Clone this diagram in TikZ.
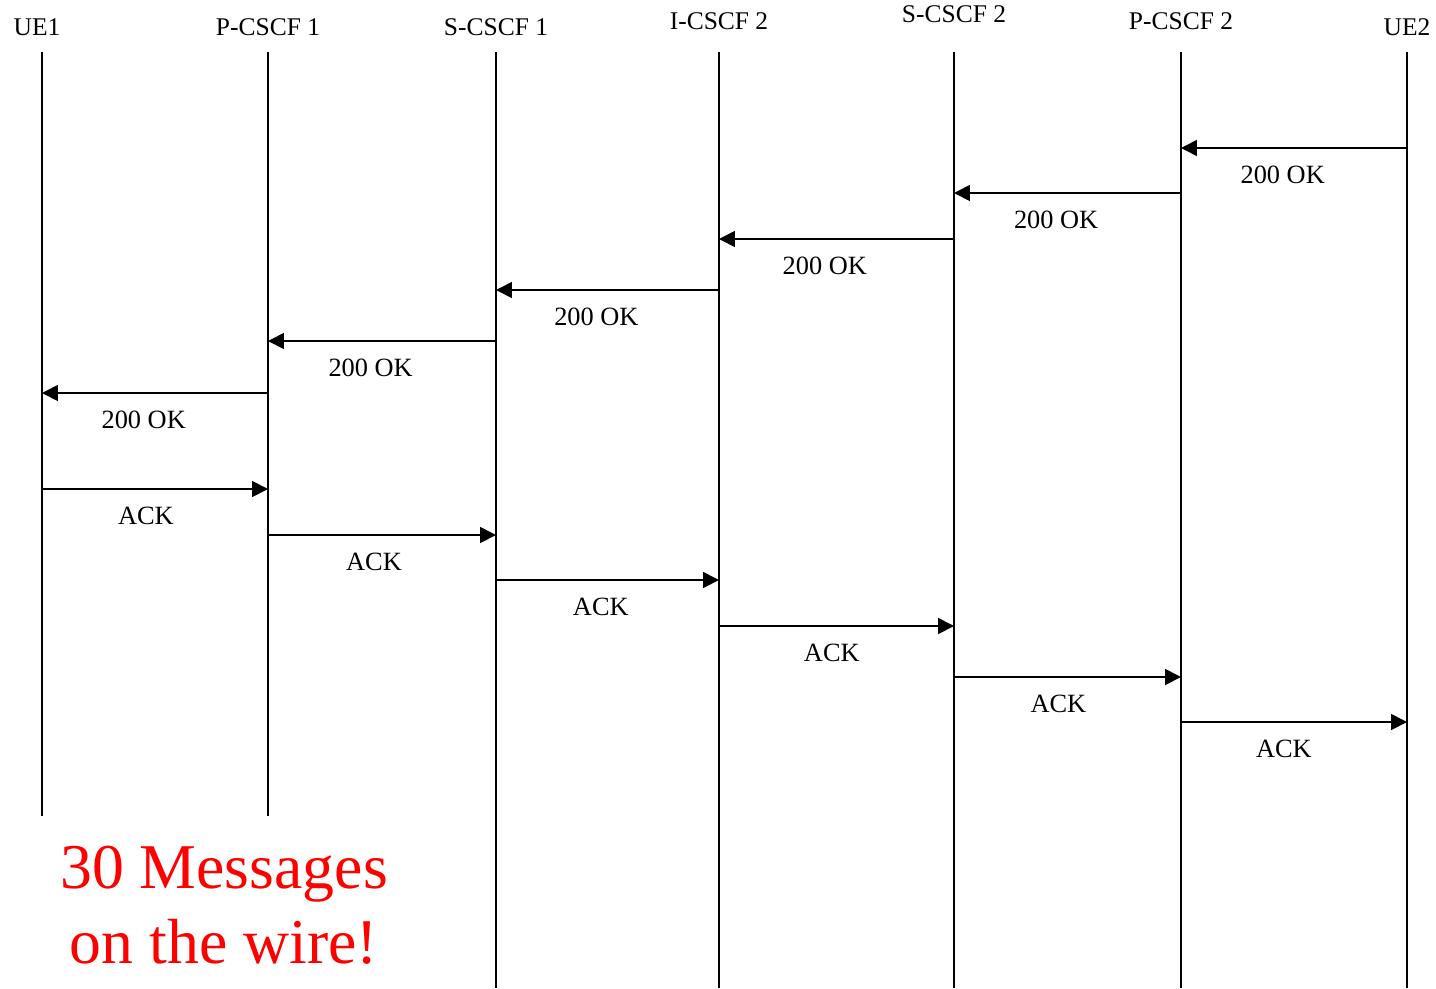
\documentclass[tikz,border=0pt]{standalone}
\usepackage{fontspec}
\setmainfont{Liberation Serif}
\usetikzlibrary{arrows.meta,positioning}

\begin{document}
\begin{tikzpicture}[
    x=0.02cm, y=-0.02cm,
    entity/.style={font=\fontsize{14.5}{16}\selectfont, inner sep=0pt},
    lifeline/.style={draw, line width=1pt},
    msg/.style={draw, line width=1pt, -{Triangle[length=9pt,width=9pt]}},
    msglabel/.style={font=\fontsize{15}{17}\selectfont, inner sep=0pt},
    remark/.style={font=\fontsize{36.3}{43}\selectfont, text=red, align=center, inner sep=0pt}
  ]
    \useasboundingbox (0,0) rectangle (1436,988);

    % Entity labels
    \node[entity] (ue1) at (37, 27) {UE1};
    \node[entity] (pcscf1) at (268, 27) {P-CSCF 1};
    \node[entity] (scscf1) at (496, 27) {S-CSCF 1};
    \node[entity] (icscf2) at (719, 21) {I-CSCF 2};
    \node[entity] (scscf2) at (954, 14) {S-CSCF 2};
    \node[entity] (pcscf2) at (1181, 21) {P-CSCF 2};
    \node[entity] (ue2) at (1407, 27) {UE2};

    % Lifelines
    \coordinate (L1) at (42, 52);
    \coordinate (L2) at (268, 52);
    \coordinate (L3) at (496, 52);
    \coordinate (L4) at (719, 52);
    \coordinate (L5) at (954, 52);
    \coordinate (L6) at (1181, 52);
    \coordinate (L7) at (1407, 52);
    \coordinate (L1-end) at (42, 816);
    \coordinate (L2-end) at (268, 816);
    \coordinate (L3-end) at (496, 988);
    \coordinate (L4-end) at (719, 988);
    \coordinate (L5-end) at (954, 988);
    \coordinate (L6-end) at (1181, 988);
    \coordinate (L7-end) at (1407, 988);
    \draw[lifeline] (L1) -- (L1-end);
    \draw[lifeline] (L2) -- (L2-end);
    \draw[lifeline] (L3) -- (L3-end);
    \draw[lifeline] (L4) -- (L4-end);
    \draw[lifeline] (L5) -- (L5-end);
    \draw[lifeline] (L6) -- (L6-end);
    \draw[lifeline] (L7) -- (L7-end);

    % 200 OK back towards UE1
    \draw[msg] (L7 |- 0,148) -- (L6 |- 0,148) node[msglabel, pos=0.55, below=10pt] {200 OK};
    \draw[msg] (L6 |- 0,193) -- (L5 |- 0,193) node[msglabel, pos=0.55, below=10pt] {200 OK};
    \draw[msg] (L5 |- 0,239) -- (L4 |- 0,239) node[msglabel, pos=0.55, below=10pt] {200 OK};
    \draw[msg] (L4 |- 0,290) -- (L3 |- 0,290) node[msglabel, pos=0.55, below=10pt] {200 OK};
    \draw[msg] (L3 |- 0,341) -- (L2 |- 0,341) node[msglabel, pos=0.55, below=10pt] {200 OK};
    \draw[msg] (L2 |- 0,393) -- (L1 |- 0,393) node[msglabel, pos=0.55, below=10pt] {200 OK};

    % ACK towards UE2
    \draw[msg] (L1 |- 0,489) -- (L2 |- 0,489) node[msglabel, pos=0.46, below=10pt] {ACK};
    \draw[msg] (L2 |- 0,535) -- (L3 |- 0,535) node[msglabel, pos=0.465, below=10pt] {ACK};
    \draw[msg] (L3 |- 0,580) -- (L4 |- 0,580) node[msglabel, pos=0.47, below=10pt] {ACK};
    \draw[msg] (L4 |- 0,626) -- (L5 |- 0,626) node[msglabel, pos=0.48, below=10pt] {ACK};
    \draw[msg] (L5 |- 0,677) -- (L6 |- 0,677) node[msglabel, pos=0.46, below=10pt] {ACK};
    \draw[msg] (L6 |- 0,722) -- (L7 |- 0,722) node[msglabel, pos=0.455, below=10pt] {ACK};

    % Remark
    \node[remark] (count) at (224, 905) {30 Messages\\on the wire!};
\end{tikzpicture}
\end{document}
